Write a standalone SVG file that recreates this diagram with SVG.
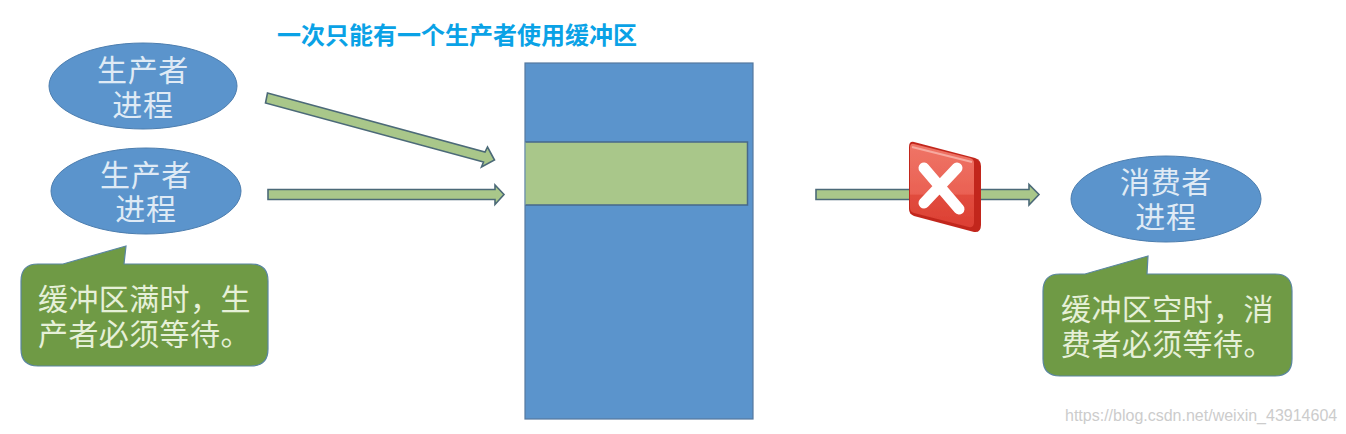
<svg xmlns="http://www.w3.org/2000/svg" width="1346" height="434" viewBox="0 0 1346 434">
<defs>
<linearGradient id="face" x1="0" y1="0" x2="0" y2="1">
<stop offset="0" stop-color="#ef7567"/><stop offset="0.6" stop-color="#ea6153"/><stop offset="0.62" stop-color="#e14c3e"/><stop offset="1" stop-color="#dc3f33"/>
</linearGradient>
<filter id="soft" x="-10%" y="-10%" width="120%" height="120%"><feGaussianBlur stdDeviation="0.6"/></filter>
</defs>
<style>
text{font-family:"Noto Sans CJK SC","Liberation Sans",sans-serif}
.proc{fill:#5b94cc;stroke:#4d7eaf;stroke-width:1}
.lbl{font-size:30px;letter-spacing:0.7px;fill:#dfeaf5;text-anchor:middle}
.call{fill:#6f9a45;stroke:#5a86a0;stroke-width:1.2}
.note{font-size:30px;letter-spacing:0.4px;fill:#e6f0d8}
.arrow{fill:#a9c78a;stroke:#4c6a78;stroke-width:1.6;stroke-linejoin:miter}
</style>
<rect width="1346" height="434" fill="#fff"/>
<text id="title" x="277" y="44" font-size="24" font-weight="700" fill="#0aa2e6">一次只能有一个生产者使用缓冲区</text>
<g id="buffer">
<rect x="525" y="63" width="228" height="356" fill="#5b94cc" stroke="#55799f" stroke-width="1.2"/>
<rect x="525.5" y="142" width="222" height="63" fill="#a9c78a"/>
<path d="M525.500 142H747.500V205H525.500" fill="none" stroke="#47688a" stroke-width="1.5"/>
</g>
<g id="producer1"><ellipse class="proc" cx="143" cy="86" rx="94" ry="43"/><text class="lbl" x="143" y="81">生产者</text><text class="lbl" x="143" y="116">进程</text></g>
<g id="producer2"><ellipse class="proc" cx="146" cy="191" rx="95" ry="43"/><text class="lbl" x="146" y="186">生产者</text><text class="lbl" x="146" y="220">进程</text></g>
<g id="consumer"><ellipse class="proc" cx="1166" cy="199" rx="95" ry="43"/><text class="lbl" x="1166" y="193">消费者</text><text class="lbl" x="1166" y="228">进程</text></g>
<g id="note-left">
<path class="call" d="M38 264H63L126 246L124 264H251Q268 264 268 281V349Q268 366 251 366H38Q21 366 21 349V281Q21 264 38 264Z"/>
<text class="note" x="38" y="310">缓冲区满时，生</text><text class="note" x="38" y="345">产者必须等待。</text>
</g>
<g id="note-right">
<path class="call" d="M1060 274H1085L1148 256L1147 274H1275Q1292 274 1292 291V359Q1292 376 1275 376H1060Q1043 376 1043 359V291Q1043 274 1060 274Z"/>
<text class="note" x="1061" y="320">缓冲区空时，消</text><text class="note" x="1061" y="355">费者必须等待。</text>
</g>
<g id="connectors">
<polygon class="arrow" points="267.500,93 485,152 487.500,147 494.500,160 481.500,167 483.500,162 265.500,103"/>
<polygon class="arrow" points="268,189.500 495,189.500 495,185 504,194.500 495,204.500 495,199.500 268,199.500"/>
<polygon class="arrow" points="816,189.500 1029,189.500 1029,184.500 1039,194.500 1029,205 1029,199.500 816,199.500"/>
</g>
<g id="blocked" filter="url(#soft)">
<path d="M914 142L975 158Q981 160 981 166V225Q981 233 974 232L914 216Q909 214 909 209V147Q909 141 914 142Z" fill="#c2281e"/>
<path d="M914 144L970 158Q974 159 974 163V222Q974 228 969 227L914 213Q910 212 910 208V148Q910 143 914 144Z" fill="url(#face)"/>
<path d="M912 147L972 162" stroke="#f7a99f" stroke-width="2" fill="none"/>
<path d="M924 168L959 209M957 168L924 203" stroke="#fff" stroke-width="11" stroke-linecap="round" fill="none"/>
</g>
<text id="watermark" x="1065" y="421" font-size="16" style="font-family:'Liberation Sans',sans-serif" fill="#cccccc">https://blog.csdn.net/weixin_43914604</text>
</svg>
